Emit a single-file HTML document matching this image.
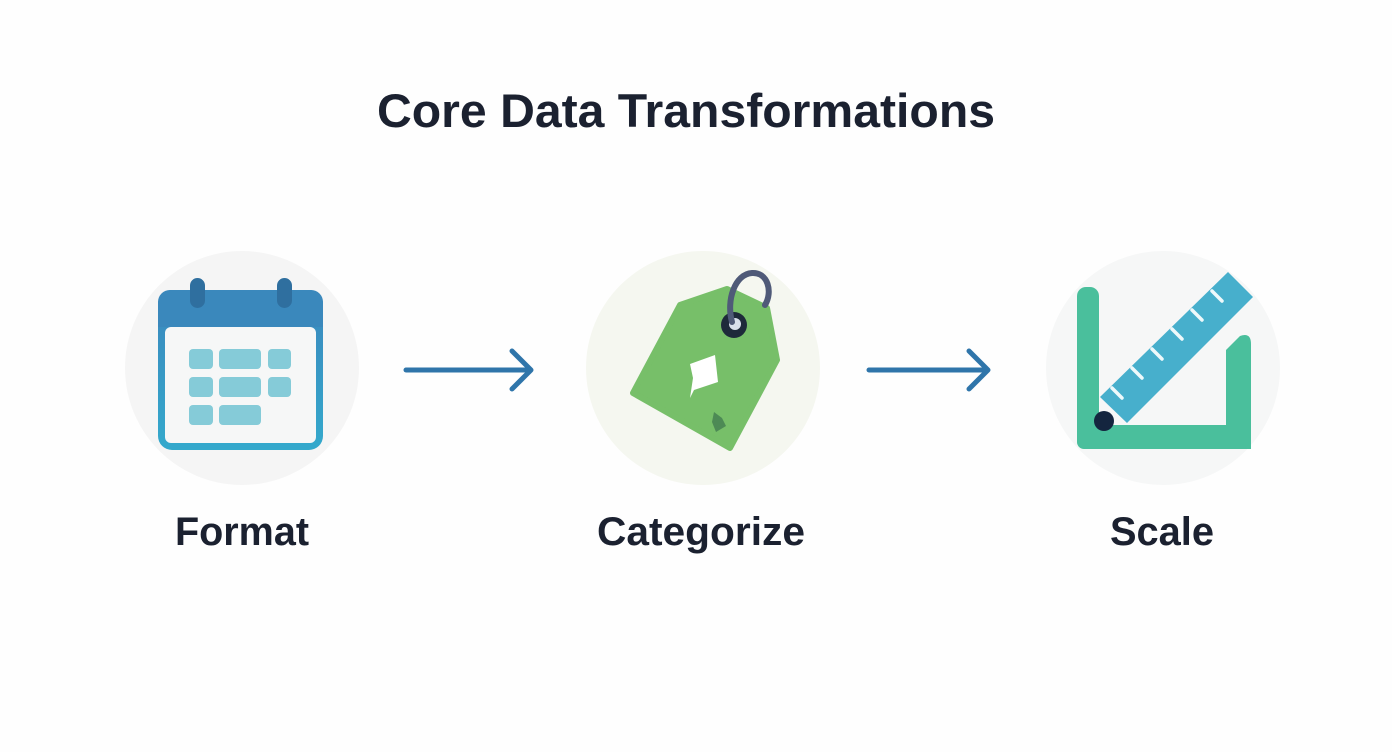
<!DOCTYPE html>
<html><head><meta charset="utf-8"><style>
html,body{margin:0;padding:0;background:#fefefe;}
svg{display:block;}
text{font-family:"Liberation Sans",sans-serif;font-weight:bold;fill:#1b2130;}
</style></head><body>
<svg width="1392" height="752" viewBox="0 0 1392 752" xmlns="http://www.w3.org/2000/svg">
<defs>
<linearGradient id="cal" x1="0" y1="0" x2="0" y2="1">
<stop offset="0" stop-color="#3b87bd"/><stop offset="1" stop-color="#34a9cc"/>
</linearGradient>
</defs>
<rect width="1392" height="752" fill="#fefefe"/>
<text x="686" y="127" font-size="47" text-anchor="middle" textLength="618" lengthAdjust="spacingAndGlyphs">Core Data Transformations</text>

<circle cx="242" cy="368" r="117" fill="#f5f5f5"/>
<circle cx="703" cy="368" r="117" fill="#f5f7f0"/>
<circle cx="1163" cy="368" r="117" fill="#f6f7f7"/>

<rect x="158" y="290" width="165" height="160" rx="14" fill="url(#cal)"/>
<rect x="165" y="327" width="151" height="116" rx="6" fill="#f6f7f7"/>
<rect x="158" y="290" width="165" height="37" rx="12" fill="#3a88bc"/>
<rect x="158" y="310" width="165" height="17" fill="#3a88bc"/>
<rect x="190" y="278" width="15" height="30" rx="7.5" fill="#2f6f9f"/>
<rect x="277" y="278" width="15" height="30" rx="7.5" fill="#2f6f9f"/>
<g fill="#85cbd8">
<rect x="189" y="349" width="24" height="20" rx="4"/><rect x="219" y="349" width="42" height="20" rx="4"/><rect x="268" y="349" width="23" height="20" rx="4"/>
<rect x="189" y="377" width="24" height="20" rx="4"/><rect x="219" y="377" width="42" height="20" rx="4"/><rect x="268" y="377" width="23" height="20" rx="4"/>
<rect x="189" y="405" width="24" height="20" rx="4"/><rect x="219" y="405" width="42" height="20" rx="4"/>
</g>

<g stroke="#2f75aa" stroke-width="5" stroke-linecap="round" stroke-linejoin="round" fill="none">
<line x1="406" y1="370" x2="530" y2="370"/><polyline points="512,351 531,370 512,389"/>
<line x1="869" y1="370" x2="987" y2="370"/><polyline points="969,351 988,370 969,389"/>
</g>

<polygon points="680,305 727,289 767,308 777,360 730,448 633,393" fill="#77bf69" stroke="#77bf69" stroke-width="6" stroke-linejoin="round"/>
<polygon points="690,364 715,355 718,382 694,390 690,398 693,378" fill="#ffffff"/>
<polygon points="714,412 722,418 726,426 716,432 712,422" fill="#4d8a55"/>
<circle cx="734" cy="325" r="13" fill="#1e2a3a"/>
<circle cx="735" cy="324" r="6" fill="#d9e0ec"/>
<path d="M732,322 C726,300 735,274 752,273 C768,272 773,292 765,305" stroke="#4f5a78" stroke-width="6" fill="none" stroke-linecap="round"/>

<g fill="#4abf9c">
<rect x="1077" y="287" width="22" height="162" rx="9"/>
<rect x="1077" y="425" width="174" height="24" rx="7"/>
<path d="M1226,350 L1240,336 Q1251,332 1251,344 L1251,449 L1226,449 Z"/>
</g>
<polygon points="1100,397 1228,272 1253,297 1127,423" fill="#47afcc"/>
<g stroke="#eef9fb" stroke-width="3.5" stroke-linecap="round">
<line x1="1112" y1="388" x2="1122" y2="398"/>
<line x1="1132" y1="368" x2="1142" y2="378"/>
<line x1="1152" y1="349" x2="1162" y2="359"/>
<line x1="1172" y1="329" x2="1182" y2="339"/>
<line x1="1192" y1="310" x2="1202" y2="320"/>
<line x1="1212" y1="291" x2="1222" y2="301"/>
</g>
<circle cx="1104" cy="421" r="10" fill="#14253f"/>

<text x="242" y="545" font-size="40" text-anchor="middle" textLength="134" lengthAdjust="spacingAndGlyphs">Format</text>
<text x="701" y="545" font-size="40" text-anchor="middle" textLength="208" lengthAdjust="spacingAndGlyphs">Categorize</text>
<text x="1162" y="545" font-size="40" text-anchor="middle" textLength="104" lengthAdjust="spacingAndGlyphs">Scale</text>
</svg>
</body></html>
